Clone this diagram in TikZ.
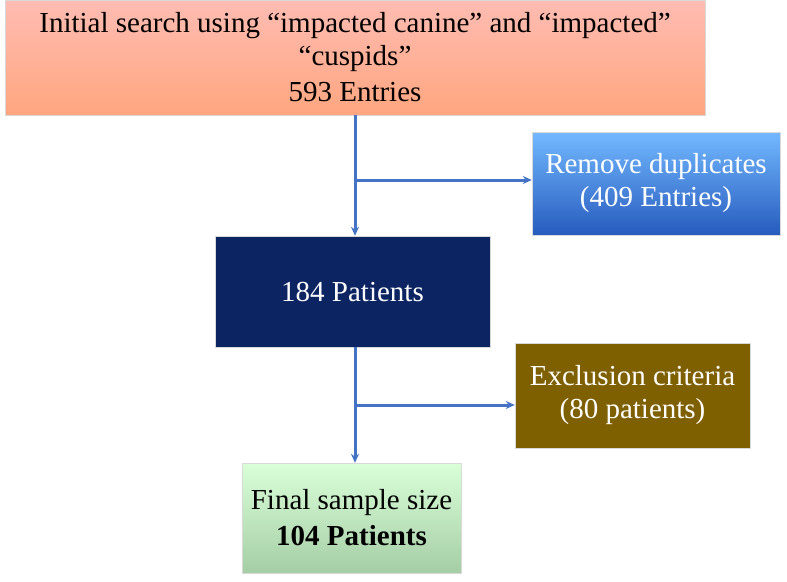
\documentclass[tikz,border=0pt]{standalone}
\usepackage{fontspec}
\setmainfont{Liberation Serif}
\usetikzlibrary{positioning,arrows.meta}

\definecolor{arrowblue}{HTML}{4472C4}
\definecolor{navybox}{HTML}{0C2461}
\definecolor{brownbox}{HTML}{7F6000}

\begin{document}
\begin{tikzpicture}[x=1pt,y=-1pt,
    box/.style={draw=black!15,inner sep=0pt,align=center,font=\fontsize{29}{33}\selectfont},
    flow/.style={-{Stealth[length=9pt,width=8pt]},draw=arrowblue,line width=3pt}]
             \useasboundingbox (0,0) rectangle (787,581);
             \node[box,minimum width=700,minimum height=115,top color=orange!25!red!30,bottom color=orange!60!red!50] (search) at (355,57.5) {Initial search using “impacted canine" and “impacted”\\“cuspids”\\[3pt]593 Entries};
             \node[box,text=white,minimum width=248,minimum height=103,top color=blue!50!cyan!55!white,bottom color=blue!65!cyan!70!black!85] (dupl) at (656,183.5) {Remove duplicates\\(409 Entries)};
             \node[box,text=white,fill=navybox,minimum width=275,minimum height=111] (patients) at (352.5,291.5) {184 Patients};
             \node[box,text=white,fill=brownbox,minimum width=235,minimum height=105] (excl) at (632.5,395.5) {Exclusion criteria\\(80 patients)};
             \node[box,minimum width=219,minimum height=110,top color=green!15!white,bottom color=green!45!black!35] (final) at (351.5,518) {Final sample size\\[3pt]\textbf{104 Patients}};
             \coordinate (j1) at (355,180);
             \coordinate (j2) at (355,405);
             \draw[flow] (search.south -| j1) -- (patients.north -| j1);
             \draw[flow] (j1) -- (j1 -| dupl.west);
             \draw[flow] (patients.south -| j2) -- (final.north -| j2);
             \draw[flow] (j2) -- (j2 -| excl.west);
\end{tikzpicture}
\end{document}
